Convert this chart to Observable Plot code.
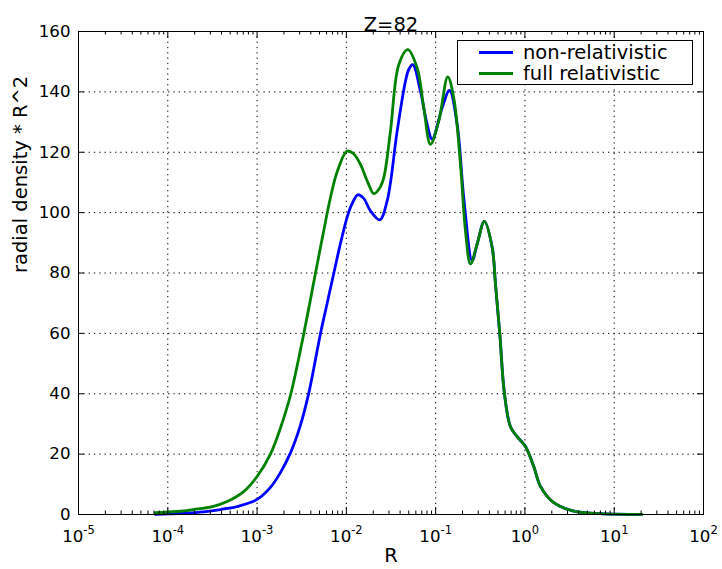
<!DOCTYPE html>
<html><head><meta charset="utf-8">
<script src="https://cdn.jsdelivr.net/npm/d3@7"></script>
<script src="https://cdn.jsdelivr.net/npm/@observablehq/plot@0.6"></script>
<style>
body{margin:0;background:#fff;}
#wrap{position:relative;width:722px;height:569px;font-family:"DejaVu Sans",sans-serif;}
#legend{position:absolute;left:457px;top:40px;width:234px;height:43px;border:1px solid #000;background:#fff;box-sizing:content-box;}
.lrow{position:absolute;left:0;height:22px;display:flex;align-items:center;font-size:19.5px;color:#000;white-space:nowrap;}
.lsw{display:inline-block;width:34px;height:3px;margin-left:21px;margin-right:10px;}
</style></head><body><div id="wrap"></div>
<script>
// data (log10 of R, and radial density * R^2)
const log10R_nonrel = [-4.138,-4.0,-3.8,-3.6,-3.41,-3.2,-3.0,-2.85,-2.74,-2.626,-2.52,-2.421,-2.29,-2.215,-2.14,-2.085,-2.044,-1.991,-1.943,-1.872,-1.808,-1.73,-1.626,-1.543,-1.431,-1.338,-1.3,-1.256,-1.17,-1.095,-1.039,-0.927,-0.845,-0.759,-0.685,-0.591,-0.535,-0.454,-0.367,-0.33,-0.282,-0.23,-0.162,-0.087,0.006,0.099,0.174,0.323,0.547,0.846,1.312];
const density_nonrel = [0.05,0.2,0.45,0.9,1.65,2.8,5.0,9.0,13.8,20.4,29.0,40.2,59.9,70,80,87.4,92.5,98.5,102.5,105.9,104.8,100.6,97.6,103.9,127,143.5,147.5,149,140.2,129.2,124.3,134.7,140.5,129.2,105,84.1,89.6,97.1,88.5,76.4,60,40.2,29.1,25.8,22.5,15.9,9.3,3.9,1.1,0.3,0.05];
const log10R_full = [-4.138,-3.9,-3.709,-3.5,-3.335,-3.15,-3.0,-2.85,-2.74,-2.626,-2.477,-2.346,-2.26,-2.178,-2.1,-1.991,-1.92,-1.842,-1.76,-1.693,-1.63,-1.581,-1.506,-1.413,-1.312,-1.207,-1.133,-1.058,-0.965,-0.864,-0.797,-0.722,-0.666,-0.61,-0.535,-0.454,-0.367,-0.33,-0.282,-0.23,-0.162,-0.087,0.006,0.099,0.174,0.323,0.547,0.846,1.312];
const density_full = [0.6,1.0,1.65,2.6,4.3,7.6,12.6,20.0,28.5,39.5,59.9,79.9,93,105,113.8,120.4,119.5,116,110,106.3,108,111.6,127,149,154,147.9,134.7,122.6,130.3,145,138,116,94,83,89.6,97.1,88.5,76.4,60,40.2,29.1,25.8,22.5,15.9,9.3,3.9,1.1,0.3,0.05];

const seriesNames = ["non-relativistic", "full relativistic"];
const seriesColors = ["#0000ff", "#008000"];
const xMajorTicks = [1e-5, 1e-4, 1e-3, 1e-2, 1e-1, 1e0, 1e1, 1e2];
const xMajorLabels = ["10^-5", "10^-4", "10^-3", "10^-2", "10^-1", "10^0", "10^1", "10^2"];
const xMinorMultipliers = [2, 3, 4, 5, 6, 7, 8, 9];
const yTicks = [0, 20, 40, 60, 80, 100, 120, 140, 160];
const titleText = "Z=82";
const xLabel = "R";
const yLabel = "radial density * R^2";

const xMinorTicks = xMajorTicks.slice(0, -1).flatMap(d => xMinorMultipliers.map(k => k * d));
const rows = [
  ...log10R_nonrel.map((lr, i) => ({R: 10 ** lr, v: density_nonrel[i], s: seriesNames[0]})),
  ...log10R_full.map((lr, i) => ({R: 10 ** lr, v: density_full[i], s: seriesNames[1]}))
];

const W = 722, H = 569, mL = 78, mR = 19, mT = 31, mB = 55;
const iW = W - mL - mR, iH = H - mT - mB;
const grid = {stroke: "#000", strokeOpacity: 1, strokeWidth: 1, strokeDasharray: "1.3,4"};
const bigFont = 19.5;

const chart = Plot.plot({
  width: W, height: H,
  marginLeft: mL, marginRight: mR, marginTop: mT, marginBottom: mB,
  style: {fontFamily: "DejaVu Sans, sans-serif", fontSize: "16.67px", background: "white", color: "black"},
  x: {type: "log", domain: [1e-5, 1e2]},
  y: {domain: [0, 160]},
  marks: [
    Plot.gridX(xMajorTicks, grid),
    Plot.gridY(yTicks, grid),
    Plot.line(rows.filter(d => d.s === seriesNames[0]), {x: "R", y: "v", stroke: seriesColors[0], strokeWidth: 2.8, curve: "catmull-rom"}),
    Plot.line(rows.filter(d => d.s === seriesNames[1]), {x: "R", y: "v", stroke: seriesColors[1], strokeWidth: 2.8, curve: "catmull-rom"}),
    Plot.frame({stroke: "#000", strokeWidth: 1}),
    Plot.ruleX(xMajorTicks, {x: d => d, insetTop: iH - 7, stroke: "#000"}),
    Plot.ruleX(xMajorTicks, {x: d => d, insetBottom: iH - 7, stroke: "#000"}),
    Plot.ruleX(xMinorTicks, {x: d => d, insetTop: iH - 3.5, stroke: "#000"}),
    Plot.ruleX(xMinorTicks, {x: d => d, insetBottom: iH - 3.5, stroke: "#000"}),
    Plot.ruleY(yTicks, {y: d => d, insetRight: iW - 6, stroke: "#000"}),
    Plot.ruleY(yTicks, {y: d => d, insetLeft: iW - 6, stroke: "#000"}),
    Plot.axisX(xMajorTicks, {anchor: "bottom", tickSize: 0, tickPadding: 16, label: null, fontSize: 16.67,
      tickFormat: d => xMajorLabels[xMajorTicks.indexOf(d)]}),
    Plot.axisY(yTicks, {anchor: "left", tickSize: 0, tickPadding: 8, label: null, fontSize: 16.67, tickFormat: d => String(d)}),
    Plot.text([xLabel], {text: d => d, frameAnchor: "bottom", dy: 47, fill: "#000", fontSize: bigFont}),
    Plot.text([yLabel], {text: d => d, frameAnchor: "left", dx: -58, rotate: -90, fill: "#000", fontSize: bigFont}),
    Plot.text([titleText], {text: d => d, frameAnchor: "top", dy: -14, fill: "#000", fontSize: bigFont})
  ]
});

// superscript exponents on the x tick labels
chart.querySelectorAll('[aria-label="x-axis tick label"] text').forEach(t => {
  const s = t.textContent;
  const m = s.match(/^(\d+)\^(.+)$/);
  if (!m) return;
  t.textContent = "";
  const ns = "http://www.w3.org/2000/svg";
  const a = document.createElementNS(ns, "tspan");
  a.textContent = m[1];
  const b = document.createElementNS(ns, "tspan");
  b.textContent = m[2];
  b.setAttribute("font-size", "11.5px");
  b.setAttribute("dy", "-8");
  t.appendChild(a); t.appendChild(b);
});

const wrap = document.getElementById("wrap");
wrap.appendChild(chart);

const legend = document.createElement("div");
legend.id = "legend";
seriesNames.forEach((name, i) => {
  const row = document.createElement("div");
  row.className = "lrow";
  row.style.top = (i === 0 ? 0.5 : 21.5) + "px";
  const sw = document.createElement("span");
  sw.className = "lsw";
  sw.style.background = seriesColors[i];
  const tx = document.createElement("span");
  tx.textContent = name;
  row.appendChild(sw); row.appendChild(tx);
  legend.appendChild(row);
});
wrap.appendChild(legend);
</script></body></html>
